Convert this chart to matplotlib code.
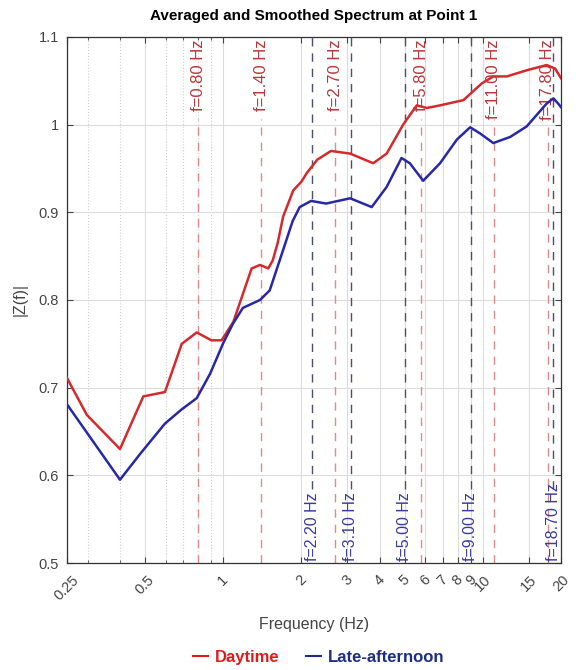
import matplotlib
matplotlib.use("Agg")
import matplotlib.pyplot as plt
from matplotlib.lines import Line2D
from matplotlib.ticker import FixedLocator, NullFormatter

plt.rcParams['font.family'] = ['Liberation Sans', 'DejaVu Sans']

# ---- data ----
day_f = [0.25, 0.298, 0.40, 0.492, 0.596, 0.692, 0.79, 0.90, 0.985, 1.093, 1.286,
         1.385, 1.49, 1.55, 1.62, 1.70, 1.86, 2.0, 2.1, 2.3, 2.6, 3.08, 3.78, 4.26,
         4.93, 5.56, 6.08, 6.84, 8.42, 9.9, 10.97, 12.35, 14.75, 17.6, 18.97, 20.0]
day_v = [0.711, 0.669, 0.630, 0.690, 0.695, 0.750, 0.763, 0.754, 0.754, 0.775, 0.836,
         0.840, 0.836, 0.845, 0.865, 0.895, 0.925, 0.935, 0.945, 0.960, 0.970, 0.967, 0.956, 0.967,
         1.000, 1.022, 1.019, 1.022, 1.028, 1.047, 1.055, 1.055, 1.062, 1.068, 1.064, 1.053]

late_f = [0.25, 0.40, 0.48, 0.596, 0.69, 0.79, 0.89, 1.0, 1.09, 1.19, 1.385, 1.51,
          1.70, 1.85, 1.97, 2.18, 2.49, 3.08, 3.73, 4.26, 4.86, 5.23, 5.89, 6.84,
          7.94, 8.93, 9.75, 10.97, 12.74, 14.75, 17.6, 18.7, 19.5, 20.0]
late_v = [0.681, 0.595, 0.625, 0.659, 0.675, 0.688, 0.716, 0.751, 0.773, 0.791, 0.800, 0.811,
          0.857, 0.890, 0.906, 0.913, 0.910, 0.916, 0.906, 0.929, 0.962, 0.956, 0.936, 0.956,
          0.983, 0.997, 0.990, 0.979, 0.986, 0.998, 1.024, 1.030, 1.024, 1.020]

day_peaks = [0.80, 1.40, 2.70, 5.80, 11.00, 17.80]
late_peaks = [2.20, 3.10, 5.00, 9.00, 18.70]

major_ticks = [0.25, 0.5, 1, 2, 3, 4, 5, 6, 7, 8, 9, 10, 15, 20]
major_labels = ['0.25', '0.5', '1', '2', '3', '4', '5', '6', '7', '8', '9', '10', '15', '20']
minor_ticks = [0.3, 0.4, 0.6, 0.7, 0.8, 0.9]
y_ticks = [0.5, 0.6, 0.7, 0.8, 0.9, 1.0, 1.1]
y_labels = ['0.5', '0.6', '0.7', '0.8', '0.9', '1', '1.1']

red = '#d42a2e'
blue = '#2828a6'
red_lbl = '#b8383a'
blue_lbl = '#3a3a9c'

fig = plt.figure(figsize=(5.76, 6.70), dpi=100)
ax = fig.add_axes([0.1163, 0.1597, 0.8577, 0.7851])

ax.set_xscale('log')
ax.set_xlim(0.25, 20)
ax.set_ylim(0.5, 1.1)

# grid
ax.xaxis.set_major_locator(FixedLocator(major_ticks))
ax.xaxis.set_minor_locator(FixedLocator(minor_ticks))
ax.set_xticklabels(major_labels, rotation=45, ha='center', va='top')
ax.xaxis.set_minor_formatter(NullFormatter())
ax.set_yticks(y_ticks)
ax.set_yticklabels(y_labels)
ax.grid(True, which='major', color='#dcdcdc', linewidth=0.8, linestyle='-')
ax.grid(True, which='minor', axis='x', color='#cfcfcf', linewidth=0.8, linestyle=':')
ax.set_axisbelow(True)
ax.tick_params(which='both', direction='in', top=True, right=True, colors='#444444',
               labelsize=10.5, length=4)
ax.tick_params(axis='x', which='major', pad=7)
ax.tick_params(axis='y', which='major', pad=6)
ax.tick_params(which='minor', length=2.5)
for sp in ax.spines.values():
    sp.set_color('#333333')
    sp.set_linewidth(0.9)

# peak lines
for f in day_peaks:
    ax.axvline(f, ymin=0, ymax=0.845, color='#e08a8a', linestyle=(0, (6, 5)),
               linewidth=1.0, zorder=1)
    ax.text(f, 1.0975, f'f={f:.2f} Hz', rotation=90, ha='center', va='top',
            color=red_lbl, fontsize=12, zorder=3)
for f in late_peaks:
    ax.axvline(f, ymin=0.14, ymax=1, color='#48506e', linestyle=(0, (6, 5)),
               linewidth=1.0, zorder=1)
    ax.text(f, 0.5025, f'f={f:.2f} Hz', rotation=90, ha='center', va='bottom',
            color=blue_lbl, fontsize=11.5, zorder=3)

ax.plot(day_f, day_v, color=red, linewidth=1.8, zorder=4)
ax.plot(late_f, late_v, color=blue, linewidth=1.8, zorder=4)

ax.set_title('Averaged and Smoothed Spectrum at Point 1', fontsize=11, fontweight='bold',
             pad=12)
ax.set_xlabel('Frequency (Hz)', fontsize=11.5, color='#444444', labelpad=10)
ax.set_ylabel('|Z(f)|', fontsize=11.5, color='#444444', labelpad=8)

handles = [Line2D([0], [0], color='#e31a1c', linewidth=1.5),
           Line2D([0], [0], color='#1c2e80', linewidth=1.5)]
leg = fig.legend(handles, ['Daytime', 'Late-afternoon'], loc='center',
                 bbox_to_anchor=(0.553, 0.019), ncol=2, frameon=False,
                 handlelength=0.9, handletextpad=0.4, columnspacing=1.6,
                 prop={'weight': 'bold', 'size': 12})
for t, c in zip(leg.get_texts(), ['#e31a1c', '#1c2e80']):
    t.set_color(c)

fig.savefig('out.png', dpi=100)
